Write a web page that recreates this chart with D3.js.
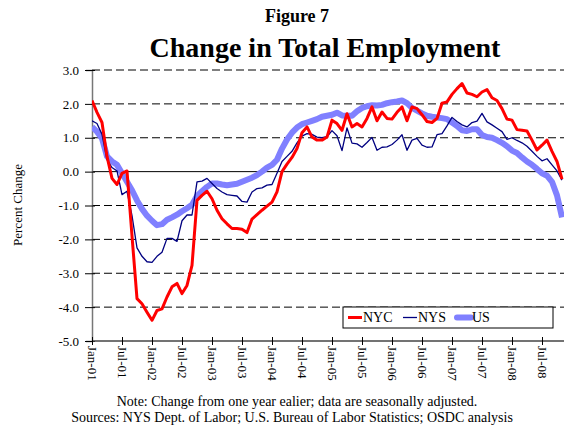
<!DOCTYPE html>
<html>
<head>
<meta charset="utf-8">
<script src="https://cdn.jsdelivr.net/npm/d3@7"></script>
<style>
    body { margin: 0; background: #fff; }
    svg { display: block; font-family: "Liberation Serif", "Times New Roman", serif; }
</style>
</head>
<body>
<svg id="chart"></svg>
<script>
// monthly, Jan-01 .. Nov-08
const monthLabels = ['Jan', 'Feb', 'Mar', 'Apr', 'May', 'Jun', 'Jul', 'Aug', 'Sep', 'Oct', 'Nov', 'Dec'];
const startYear = 2001;

const nycValues = [
    2.10, 1.75, 1.45, 0.45, -0.20, -0.38, -0.05, 0.02, -1.90, -3.75, -3.90, -4.15,
    -4.39, -4.10, -4.05, -3.70, -3.40, -3.30, -3.60, -3.36, -2.77, -0.85, -0.70, -0.58,
    -0.80, -1.14, -1.39, -1.54, -1.68, -1.68, -1.70, -1.80, -1.40, -1.27, -1.14, -1.02,
    -0.90, -0.60, 0.00, 0.22, 0.42, 0.68, 1.15, 1.32, 1.02, 0.93, 0.93, 1.02,
    1.52, 1.42, 1.22, 1.71, 1.32, 1.42, 1.32, 1.57, 1.91, 1.50, 1.76, 1.57,
    1.55, 1.75, 1.91, 1.50, 1.91, 1.86, 1.68, 1.48, 1.45, 1.57, 2.02, 2.06,
    2.28, 2.45, 2.60, 2.32, 2.28, 2.21, 2.35, 2.42, 2.18, 2.10, 1.86, 1.55,
    1.52, 1.24, 1.22, 1.20, 0.93, 0.64, 0.78, 0.93, 0.60, 0.30, -0.22
];

const nysValues = [
    1.50, 1.42, 1.10, 0.35, 0.12, 0.02, -0.68, -0.58, -1.30, -2.25, -2.50, -2.66,
    -2.68, -2.50, -2.38, -1.97, -1.97, -2.06, -1.45, -1.28, -1.28, -0.30, -0.28, -0.20,
    -0.35, -0.50, -0.60, -0.68, -0.70, -0.72, -0.88, -0.90, -0.60, -0.50, -0.48, -0.40,
    -0.38, -0.05, 0.30, 0.45, 0.60, 0.85, 1.05, 1.12, 1.10, 1.02, 1.00, 1.03,
    1.21, 1.06, 0.62, 1.29, 0.84, 0.82, 0.72, 0.86, 1.01, 0.63, 0.72, 0.73,
    0.80, 0.93, 1.09, 0.63, 0.93, 0.98, 0.78, 0.72, 0.73, 1.09, 1.12, 1.35,
    1.60, 1.48, 1.38, 1.32, 1.45, 1.49, 1.72, 1.47, 1.38, 1.28, 1.18, 0.95,
    1.00, 0.92, 0.85, 0.75, 0.60, 0.45, 0.32, 0.38, 0.20, 0.02, -0.25
];

const usValues = [
    1.32, 1.18, 0.98, 0.45, 0.30, 0.20, -0.05, -0.30, -0.55, -0.85, -1.10, -1.30,
    -1.45, -1.58, -1.55, -1.42, -1.35, -1.27, -1.17, -1.08, -0.98, -0.72, -0.58, -0.45,
    -0.35, -0.35, -0.38, -0.40, -0.38, -0.36, -0.30, -0.24, -0.18, -0.10, 0.00, 0.12,
    0.20, 0.35, 0.68, 0.95, 1.15, 1.30, 1.40, 1.45, 1.50, 1.55, 1.62, 1.65,
    1.68, 1.74, 1.66, 1.65, 1.65, 1.78, 1.88, 1.93, 1.96, 1.95, 1.97, 2.02,
    2.05, 2.07, 2.10, 2.02, 1.88, 1.80, 1.72, 1.65, 1.62, 1.60, 1.58, 1.55,
    1.45, 1.35, 1.22, 1.20, 1.25, 1.25, 1.08, 1.02, 1.00, 0.93, 0.85, 0.75,
    0.62, 0.55, 0.42, 0.30, 0.20, 0.08, -0.05, -0.12, -0.30, -0.70, -1.35
];

const yTicks = [3, 2, 1, 0, -1, -2, -3, -4, -5];
const xTickMonths = d3.range(0, 95, 6);

const series = [
    { name: 'US', values: usValues, color: '#8080ff', width: 6 },
    { name: 'NYS', values: nysValues, color: '#000080', width: 1.3 },
    { name: 'NYC', values: nycValues, color: '#ff0000', width: 3 }
];
const legendOrder = ['NYC', 'NYS', 'US'];

function monthLabel(m) {
    const yr = (startYear + Math.floor(m / 12)) % 100;
    return monthLabels[m % 12] + '-' + String(yr).padStart(2, '0');
}

const width = 564, height = 426;
const plot = { left: 92, right: 562, top: 70, bottom: 341 };

const svg = d3.select('#chart')
    .attr('width', width)
    .attr('height', height);

const x = d3.scaleLinear().domain([0, 94]).range([plot.left, plot.right]);
const y = d3.scaleLinear().domain([-5, 3]).range([plot.bottom, plot.top]);

// titles
svg.append('text')
    .attr('x', 297).attr('y', 22)
    .attr('text-anchor', 'middle')
    .attr('font-size', 18).attr('font-weight', 'bold')
    .text('Figure 7');

svg.append('text')
    .attr('x', 325).attr('y', 57)
    .attr('text-anchor', 'middle')
    .attr('font-size', 28).attr('font-weight', 'bold')
    .text('Change in Total Employment');

// gridlines
svg.append('g')
    .selectAll('line')
    .data(yTicks.filter(v => v > -5))
    .enter()
    .append('line')
    .attr('x1', plot.left).attr('x2', width)
    .attr('y1', d => y(d)).attr('y2', d => y(d))
    .attr('stroke', '#000')
    .attr('stroke-width', 1)
    .attr('stroke-dasharray', d => d === 0 ? null : '8,4');

// y axis
const yAxis = svg.append('g')
    .attr('transform', `translate(${plot.left},0)`)
    .call(d3.axisLeft(y).tickValues(yTicks).tickFormat(d3.format('.1f')).tickSize(6).tickPadding(7));
yAxis.select('.domain').attr('stroke', '#777').attr('stroke-width', 1.5);
yAxis.selectAll('.tick line').attr('stroke', '#000').attr('x2', -7).attr('x1', 3);
yAxis.selectAll('.tick text')
    .attr('font-family', '"Liberation Serif", serif')
    .attr('font-size', 13)
    .attr('fill', '#000')
    .text(d => d < 0 ? '-' + Math.abs(d).toFixed(1) : d.toFixed(1));

svg.append('text')
    .attr('transform', 'translate(22,205) rotate(-90)')
    .attr('text-anchor', 'middle')
    .attr('font-size', 13)
    .text('Percent Change');

// x axis
const xAxis = svg.append('g')
    .attr('transform', `translate(0,${plot.bottom})`)
    .call(d3.axisBottom(x).tickValues(xTickMonths).tickFormat(monthLabel).tickSize(4).tickPadding(4));
xAxis.select('.domain').attr('d', `M${plot.left},0H${width}`).attr('stroke', '#444').attr('stroke-width', 1.5);
xAxis.selectAll('.tick line').attr('stroke', '#000').attr('y1', -4).attr('y2', 4);
xAxis.selectAll('.tick text')
    .attr('font-family', '"Liberation Serif", serif')
    .attr('font-size', 13)
    .attr('fill', '#000')
    .attr('text-anchor', 'start')
    .attr('transform', 'rotate(90)')
    .attr('x', 5).attr('y', 0).attr('dy', '0.32em');

// lines
svg.append('clipPath').attr('id', 'clip')
    .append('rect')
    .attr('x', plot.left).attr('y', plot.top - 10)
    .attr('width', width - plot.left).attr('height', plot.bottom - plot.top + 10);

const line = d3.line()
    .x((d, i) => x(i))
    .y(d => y(d))
    .curve(d3.curveLinear);

svg.append('g')
    .attr('clip-path', 'url(#clip)')
    .selectAll('path')
    .data(series)
    .enter()
    .append('path')
    .attr('d', d => line(d.values))
    .attr('fill', 'none')
    .attr('stroke', d => d.color)
    .attr('stroke-width', d => d.width)
    .attr('stroke-linejoin', 'round');

// legend
const legend = svg.append('g').attr('transform', 'translate(343,307)');
legend.append('rect')
    .attr('width', 210).attr('height', 21)
    .attr('fill', '#fff')
    .attr('stroke', '#000');

const legendX = [5, 60, 114];
legendOrder.forEach((name, i) => {
    const s = series.find(d => d.name === name);
    legend.append('line')
        .attr('x1', legendX[i]).attr('x2', legendX[i] + 14)
        .attr('y1', 10.5).attr('y2', 10.5)
        .attr('stroke', s.color)
        .attr('stroke-width', s.width)
        .attr('stroke-linecap', name === 'US' ? 'round' : 'butt');
    legend.append('text')
        .attr('x', legendX[i] + 15).attr('y', 15)
        .attr('font-size', 14)
        .text(name);
});

// notes
svg.append('text')
    .attr('x', 297).attr('y', 406)
    .attr('text-anchor', 'middle')
    .attr('font-size', 14)
    .text('Note: Change from one year ealier; data are seasonally adjusted.');

svg.append('text')
    .attr('x', 292).attr('y', 422)
    .attr('text-anchor', 'middle')
    .attr('font-size', 14)
    .text('Sources: NYS Dept. of Labor; U.S. Bureau of Labor Statistics; OSDC analysis');
</script>
</body>
</html>
